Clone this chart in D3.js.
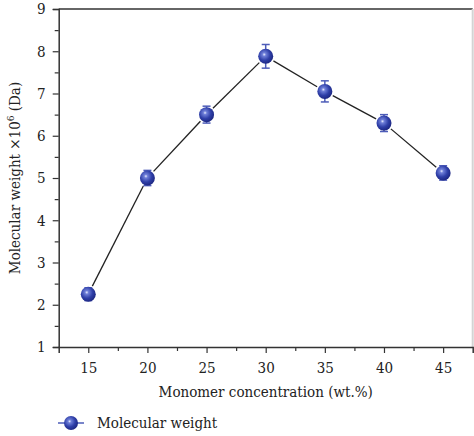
<!DOCTYPE html>
<html><head><meta charset="utf-8">
<script src="https://cdn.jsdelivr.net/npm/d3@7"></script>
<style>body{margin:0;background:#fff}svg{display:block}</style>
</head><body>
<svg id="c" width="474" height="436"></svg>
<script>
const concentrations = [15, 20, 25, 30, 35, 40, 45];
const molecularWeight = [2.25, 5.0, 6.5, 7.88, 7.05, 6.3, 5.12];
const errors = [0.15, 0.18, 0.2, 0.28, 0.25, 0.2, 0.17];
const xTicks = [15, 20, 25, 30, 35, 40, 45];
const yTicks = [1, 2, 3, 4, 5, 6, 7, 8, 9];
const seriesName = "Molecular weight";

const svg = d3.select("#c");
const L = 58.7, R = 472.7, T = 9, B = 347;
const x = d3.scaleLinear().domain([12.5, 47.5]).range([L, R]);
const y = d3.scaleLinear().domain([1, 9]).range([B, T]);
const font = "'DejaVu Serif Condensed', 'DejaVu Serif', serif";

const defs = svg.append("defs");
const g = defs.append("radialGradient").attr("id", "ball").attr("cx", "0.4").attr("cy", "0.38").attr("r", "0.65");
g.append("stop").attr("offset", "0").attr("stop-color", "#e8ecff");
g.append("stop").attr("offset", "0.18").attr("stop-color", "#6f7fd8");
g.append("stop").attr("offset", "0.6").attr("stop-color", "#2f3fa8");
g.append("stop").attr("offset", "1").attr("stop-color", "#1c2680");

svg.append("line").attr("x1", L).attr("x2", R).attr("y1", T).attr("y2", T).attr("stroke", "#333").attr("stroke-width", 1.5);
svg.append("line").attr("x1", R).attr("x2", R).attr("y1", T).attr("y2", B).attr("stroke", "#d4d4d4").attr("stroke-width", 2);

svg.append("g").attr("transform", `translate(0,${B})`)
  .call(d3.axisBottom(x).tickValues(xTicks).tickSize(6).tickPadding(9).tickFormat(d3.format("d")));
svg.append("g").attr("transform", `translate(0,${B})`)
  .call(d3.axisBottom(x).tickValues(d3.range(12.5, 47.6, 5).filter(v => v > 12.6 && v < 47.4)).tickSize(4).tickFormat(""))
  .call(s => s.select(".domain").remove());
svg.append("g").attr("transform", `translate(${L},0)`)
  .call(d3.axisLeft(y).tickValues(yTicks).tickSize(6).tickPadding(7).tickFormat(d3.format("d")));
svg.append("g").attr("transform", `translate(${L},0)`)
  .call(d3.axisLeft(y).tickValues(d3.range(1.5, 9, 1)).tickSize(4).tickFormat(""))
  .call(s => s.select(".domain").remove());

svg.selectAll(".domain").attr("stroke", "#333").attr("stroke-width", 1.5);
svg.selectAll(".tick line").attr("stroke", "#333").attr("stroke-width", 1.2);
svg.selectAll(".tick text").attr("font-size", 15).attr("fill", "#222").attr("font-family", font);

svg.append("text").attr("x", (L + R) / 2).attr("y", 397).attr("text-anchor", "middle").attr("font-family", font)
  .attr("font-size", 15).attr("fill", "#222").text("Monomer concentration (wt.%)");
const yt = svg.append("text").attr("transform", `translate(20,${(T + B) / 2}) rotate(-90)`).attr("text-anchor", "middle")
  .attr("font-size", 15).attr("fill", "#222").attr("font-family", font);
yt.append("tspan").text("Molecular weight \u00d710");
yt.append("tspan").attr("dy", -6).attr("font-size", 10).text("6");
yt.append("tspan").attr("dy", 6).text(" (Da)");

const pts = concentrations.map((c, i) => [x(c), y(molecularWeight[i])]);
const gap = 9;
for (let i = 0; i < pts.length - 1; i++) {
  const [x1, y1] = pts[i], [x2, y2] = pts[i + 1];
  const dx = x2 - x1, dy = y2 - y1, len = Math.hypot(dx, dy);
  svg.append("line")
    .attr("x1", x1 + dx / len * gap).attr("y1", y1 + dy / len * gap)
    .attr("x2", x2 - dx / len * gap).attr("y2", y2 - dy / len * gap)
    .attr("stroke", "#222").attr("stroke-width", 1.3);
}

const eb = svg.append("g").attr("stroke", "#4d5cb8").attr("stroke-width", 1.5);
concentrations.forEach((c, i) => {
  const cx = x(c), yt1 = y(molecularWeight[i] + errors[i]), yb1 = y(molecularWeight[i] - errors[i]);
  eb.append("line").attr("x1", cx).attr("x2", cx).attr("y1", yt1).attr("y2", yb1);
  eb.append("line").attr("x1", cx - 4).attr("x2", cx + 4).attr("y1", yt1).attr("y2", yt1);
  eb.append("line").attr("x1", cx - 4).attr("x2", cx + 4).attr("y1", yb1).attr("y2", yb1);
});

svg.selectAll("circle.pt").data(concentrations).join("circle").attr("class", "pt")
  .attr("cx", d => x(d)).attr("cy", (d, i) => y(molecularWeight[i])).attr("r", 7.5)
  .attr("fill", "url(#ball)");

const ly = 423;
svg.append("line").attr("x1", 58).attr("x2", 84).attr("y1", ly).attr("y2", ly).attr("stroke", "#4d5cb8").attr("stroke-width", 1.5);
svg.append("circle").attr("cx", 71).attr("cy", ly).attr("r", 7).attr("fill", "url(#ball)");
svg.append("text").attr("x", 97).attr("y", ly + 5).attr("font-size", 15).attr("font-family", font).attr("fill", "#222").text(seriesName);
</script>
</body></html>
